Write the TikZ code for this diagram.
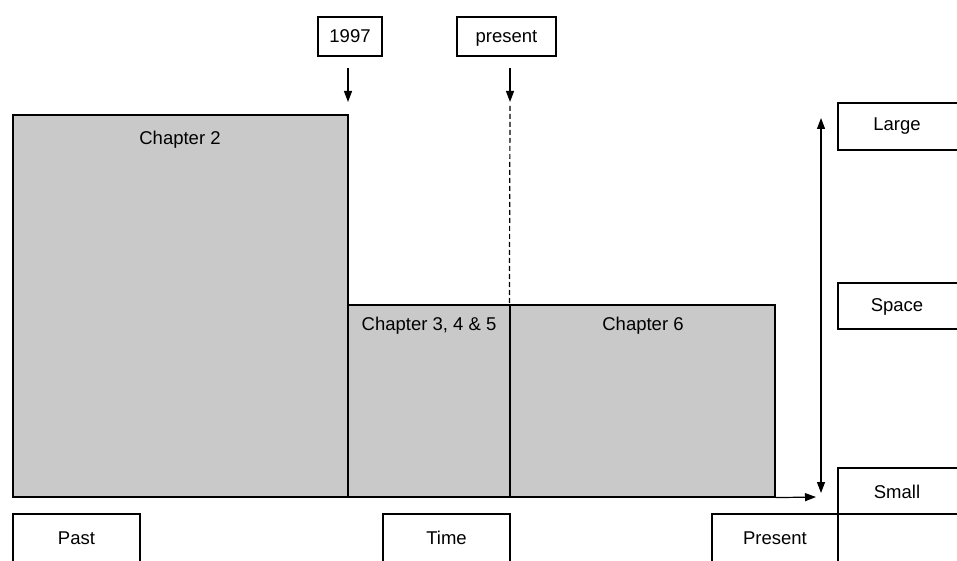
\documentclass[tikz,border=0pt]{standalone}
\usepackage{fontspec}
\setmainfont{Liberation Sans}
\usetikzlibrary{arrows.meta}
\begin{document}
\begin{tikzpicture}[x=1pt,y=-1pt,
  lab/.style={draw=black,line width=1.2pt,fill=white,inner sep=0pt,font=\fontsize{18.5}{20}\selectfont},
  block/.style={draw=black,line width=1.2pt,fill=gray!42,inner sep=0pt},
  txt/.style={inner sep=0pt,font=\fontsize{18.5}{20}\selectfont},
  arr/.style={line width=1.2pt,-{Triangle[length=11pt,width=8pt]}},
  darr/.style={line width=1.2pt,{Triangle[length=11pt,width=8pt]}-{Triangle[length=11pt,width=8pt]}}]
\useasboundingbox (0,0) rectangle (957,561);
\clip (0,0) rectangle (957,561);
\fill[white] (0,0) rectangle (957,561);
% blocks
\node[block,minimum width=335pt,minimum height=382pt] (ch2) at (180.5,306) {};
\node[block,minimum width=162pt,minimum height=192pt] (ch3) at (429,401) {};
\node[block,minimum width=265pt,minimum height=192pt] (ch6) at (642.5,401) {};
\node[txt] (t2) at (180,140) {Chapter 2};
\node[txt] (t3) at (429,326) {Chapter 3, 4 \& 5};
\node[txt] (t6) at (643,326) {Chapter 6};
% top labels
\node[lab,minimum width=64pt,minimum height=39pt] (y97) at (350,36.5) {1997};
\node[lab,minimum width=99pt,minimum height=39pt] (pres) at (506.5,36.5) {};
\node[txt] (presT) at (506.5,38) {present};
\coordinate (a1) at (348,102);
\coordinate (a2) at (510,102);
\draw[arr] (348,68) -- (a1);
\draw[arr] (510,68) -- (a2);
\coordinate (dtop) at (510,106);
\draw[line width=1.2pt,dash pattern=on 5pt off 3pt] (dtop) -- (ch6.north west);
% axes
\coordinate (hx) at (816,497);
\draw[arr] (ch6.south east) -- (hx);
\coordinate (vt) at (821,118);
\coordinate (vb) at (821,493);
\draw[darr] (vb) -- (vt);
% right labels
\node[lab,minimum width=140pt,minimum height=47pt] (large) at (908,126.5) {};
\node[txt] (largeT) at (897,126.5) {Large};
\node[lab,minimum width=140pt,minimum height=46pt] (space) at (908,306) {};
\node[txt] (spaceT) at (897,307) {Space};
\node[lab,minimum width=140pt,minimum height=46pt] (small) at (908,491) {};
\node[txt] (smallT) at (897,492) {Small};
% bottom labels
\node[lab,minimum width=127pt,minimum height=60pt] (past) at (76.5,544) {};
\node[txt] (pastT) at (76.5,538) {Past};
\node[lab,minimum width=127pt,minimum height=60pt] (time) at (446.5,544) {};
\node[txt] (timeT) at (446.5,538) {Time};
\node[lab,minimum width=126pt,minimum height=60pt] (present) at (775,544) {};
\node[txt] (presentT) at (775,538) {Present};
\end{tikzpicture}
\end{document}
